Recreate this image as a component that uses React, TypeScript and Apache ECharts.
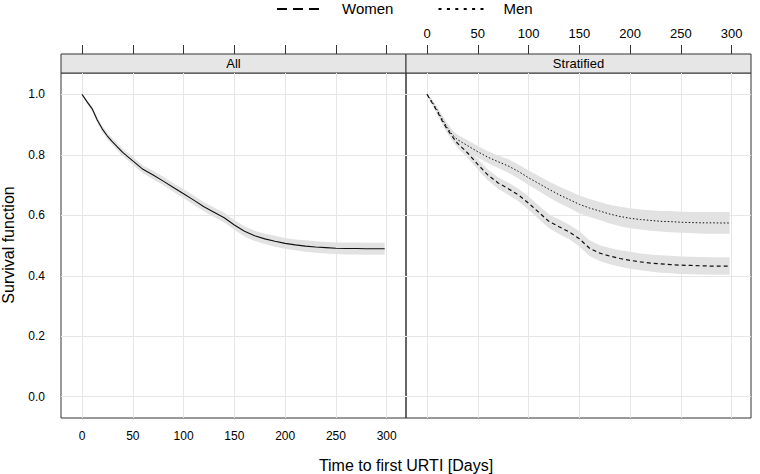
import React, { useEffect, useRef } from "react";
import * as echarts from "echarts";

const FONT = "'Liberation Sans', Arial, Helvetica, sans-serif";

const days = [0, 5, 10, 15, 20, 25, 30, 40, 50, 60, 70, 80, 90, 100, 110, 120, 130, 140, 150, 160, 170, 180, 190, 200, 210, 220, 230, 240, 250, 260, 270, 280, 290, 298];

const allSurv = [1.0, 0.975, 0.952, 0.915, 0.885, 0.862, 0.843, 0.808, 0.78, 0.752, 0.733, 0.713, 0.692, 0.671, 0.65, 0.628, 0.61, 0.592, 0.568, 0.547, 0.532, 0.522, 0.514, 0.507, 0.502, 0.498, 0.495, 0.493, 0.491, 0.49, 0.49, 0.4895, 0.4895, 0.4895];
const allHalfCI = [0, 0.006, 0.008, 0.009, 0.01, 0.011, 0.011, 0.012, 0.013, 0.013, 0.014, 0.014, 0.014, 0.015, 0.015, 0.015, 0.016, 0.016, 0.016, 0.017, 0.017, 0.017, 0.018, 0.018, 0.018, 0.019, 0.019, 0.019, 0.019, 0.02, 0.02, 0.02, 0.02, 0.02];

const menSurv = [1.0, 0.975, 0.948, 0.918, 0.89, 0.866, 0.85, 0.83, 0.81, 0.792, 0.777, 0.763, 0.745, 0.724, 0.705, 0.686, 0.668, 0.652, 0.636, 0.624, 0.614, 0.604, 0.596, 0.59, 0.586, 0.583, 0.58, 0.579, 0.577, 0.576, 0.575, 0.575, 0.5745, 0.5745];
const menHalfCI = [0, 0.008, 0.011, 0.013, 0.014, 0.015, 0.016, 0.018, 0.019, 0.02, 0.021, 0.022, 0.023, 0.024, 0.025, 0.026, 0.027, 0.028, 0.029, 0.03, 0.03, 0.031, 0.032, 0.033, 0.033, 0.034, 0.034, 0.035, 0.035, 0.035, 0.036, 0.036, 0.036, 0.036];

const womenSurv = [1.0, 0.972, 0.944, 0.912, 0.884, 0.86, 0.838, 0.806, 0.768, 0.733, 0.707, 0.688, 0.667, 0.64, 0.61, 0.58, 0.562, 0.545, 0.522, 0.491, 0.475, 0.465, 0.457, 0.451, 0.446, 0.442, 0.439, 0.437, 0.435, 0.434, 0.433, 0.432, 0.432, 0.432];
const womenHalfCI = [0, 0.008, 0.01, 0.012, 0.013, 0.014, 0.015, 0.016, 0.017, 0.018, 0.019, 0.02, 0.021, 0.022, 0.022, 0.023, 0.024, 0.024, 0.025, 0.026, 0.026, 0.027, 0.027, 0.028, 0.028, 0.028, 0.029, 0.029, 0.029, 0.029, 0.029, 0.029, 0.029, 0.029];

const xTicks = [0, 50, 100, 150, 200, 250, 300];
const yTicks = [0, 0.2, 0.4, 0.6, 0.8, 1.0];
const panelTitles = ["All", "Stratified"];
const legendNames = ["Women", "Men"];

const X_MIN = -20.7;
const X_MAX = 319;
const Y_MIN = -0.0704;
const Y_MAX = 1.0705;

const INK = "#000";
const FRAME = "#333";
const GRIDC = "#e6e6e6";
const BAND = "#e2e2e2";
const WOMEN_DASH = [4, 3];
const MEN_DASH = [1.5, 2];

function pairs(ys: number[]) {
  return days.map((d, i) => [d, ys[i]]);
}

function bandSeries(surv: number[], half: number[], gi: number, xi: number, key: string) {
  const lower = surv.map((v, i) => v - half[i]);
  const upper = surv.map((v, i) => v + half[i]);
  return {
    type: "custom",
    name: key + "-ci",
    xAxisIndex: xi,
    yAxisIndex: gi,
    silent: true,
    z: 3,
    encode: { x: 0, y: [1, 2] },
    data: days.map((d, i) => [d, lower[i], upper[i]]),
    renderItem: (params: any, api: any) => {
      if (params.dataIndex !== 0) return null;
      const pts: number[][] = [];
      for (let j = 0; j < days.length; j++) pts.push(api.coord([days[j], upper[j]]));
      for (let j = days.length - 1; j >= 0; j--) pts.push(api.coord([days[j], lower[j]]));
      return {
        type: "polygon",
        shape: { points: pts },
        style: { fill: BAND, stroke: "none" },
      };
    },
  };
}

function gridSeries(gi: number, xi: number) {
  return {
    type: "line",
    name: "grid" + gi,
    xAxisIndex: xi,
    yAxisIndex: gi,
    data: [],
    silent: true,
    z: 1,
    markLine: {
      silent: true,
      z: 1,
      symbol: ["none", "none"],
      label: { show: false },
      lineStyle: { color: GRIDC, type: "solid", width: 1 },
      emphasis: { disabled: true },
      data: [
        ...xTicks.map((t) => ({ xAxis: t })),
        ...yTicks.map((t) => ({ yAxis: t })),
      ],
    },
  };
}

function xAxisDef(gi: number, pos: "top" | "bottom", labels: boolean, offset: number) {
  return {
    type: "value",
    gridIndex: gi,
    position: pos,
    offset,
    min: X_MIN,
    max: X_MAX,
    axisLine: { show: false },
    splitLine: { show: false },
    axisTick: {
      show: true,
      inside: false,
      length: pos === "top" ? 9 : 7,
      customValues: xTicks,
      lineStyle: { color: FRAME, width: 1 },
    },
    axisLabel: {
      show: labels,
      customValues: xTicks,
      margin: pos === "bottom" ? 12 : 14,
      fontSize: pos === "bottom" ? 12 : 13,
      color: INK,
      fontFamily: FONT,
    },
  };
}

function yAxisDef(gi: number, pos: "left" | "right", labels: boolean) {
  return {
    type: "value",
    gridIndex: gi,
    position: pos,
    min: Y_MIN,
    max: Y_MAX,
    axisLine: { show: false },
    splitLine: { show: false },
    axisTick: {
      show: true,
      inside: false,
      length: 8,
      customValues: yTicks,
      lineStyle: { color: FRAME, width: 1 },
    },
    axisLabel: {
      show: labels,
      customValues: yTicks,
      margin: 16,
      fontSize: 12,
      color: INK,
      fontFamily: FONT,
      formatter: (v: number) => v.toFixed(1),
    },
  };
}

export default function App() {
  const ref = useRef<HTMLDivElement>(null);

  useEffect(() => {
    if (!ref.current) return;
    const chart = echarts.init(ref.current, null, { renderer: "svg" });

    const panelLeft = [61, 406];
    const panelTop = 73;
    const panelW = 345;
    const panelH = 345;
    const stripH = 19;

    const legendText = (x: number, t: string) => ({
      type: "text",
      x,
      y: 8.5,
      style: {
        text: t,
        fontSize: 15,
        fontFamily: FONT,
        fill: INK,
        align: "left",
        verticalAlign: "middle",
      },
    });

    const option: any = {
      animation: false,
      textStyle: { fontFamily: FONT },
      grid: panelLeft.map((l) => ({
        left: l,
        top: panelTop,
        width: panelW,
        height: panelH,
        show: true,
        borderColor: FRAME,
        borderWidth: 1,
        backgroundColor: "transparent",
        containLabel: false,
      })),
      xAxis: [
        xAxisDef(0, "bottom", true, 0),
        xAxisDef(0, "top", false, stripH),
        xAxisDef(1, "bottom", false, 0),
        xAxisDef(1, "top", true, stripH),
      ],
      yAxis: [yAxisDef(0, "left", true), yAxisDef(1, "right", false)],
      series: [
        gridSeries(0, 0),
        gridSeries(1, 2),
        bandSeries(allSurv, allHalfCI, 0, 0, "all"),
        bandSeries(menSurv, menHalfCI, 1, 2, "men"),
        bandSeries(womenSurv, womenHalfCI, 1, 2, "women"),
        {
          type: "line",
          name: "All",
          xAxisIndex: 0,
          yAxisIndex: 0,
          data: pairs(allSurv),
          symbol: "none",
          lineStyle: { color: "#111", width: 1.1, type: "solid" },
          z: 5,
        },
        {
          type: "line",
          name: legendNames[1],
          xAxisIndex: 2,
          yAxisIndex: 1,
          data: pairs(menSurv),
          symbol: "none",
          lineStyle: { color: "#111", width: 1, type: MEN_DASH },
          z: 5,
        },
        {
          type: "line",
          name: legendNames[0],
          xAxisIndex: 2,
          yAxisIndex: 1,
          data: pairs(womenSurv),
          symbol: "none",
          lineStyle: { color: "#111", width: 1.2, type: WOMEN_DASH },
          z: 5,
        },
      ],
      graphic: [
        ...panelLeft.map((l, i) => ({
          type: "group",
          children: [
            {
              type: "rect",
              shape: { x: l, y: panelTop - stripH, width: panelW, height: stripH },
              style: { fill: "#e6e6e6", stroke: FRAME, lineWidth: 1 },
            },
            {
              type: "text",
              x: l + panelW / 2,
              y: panelTop - stripH / 2,
              style: {
                text: panelTitles[i],
                fontSize: 13,
                fontFamily: FONT,
                fill: INK,
                align: "center",
                verticalAlign: "middle",
              },
            },
          ],
        })),
        {
          type: "line",
          shape: { x1: 277, y1: 9, x2: 319, y2: 9 },
          style: { stroke: INK, lineWidth: 2, lineDash: [10, 6] },
        },
        legendText(342, legendNames[0]),
        {
          type: "line",
          shape: { x1: 438.5, y1: 9, x2: 483.5, y2: 9 },
          style: { stroke: INK, lineWidth: 2, lineDash: [3, 5.4] },
        },
        legendText(503.5, legendNames[1]),
        {
          type: "text",
          x: 406,
          y: 465,
          style: {
            text: "Time to first URTI [Days]",
            fontSize: 16,
            fontFamily: FONT,
            fill: INK,
            align: "center",
            verticalAlign: "middle",
          },
        },
        {
          type: "text",
          x: 8,
          y: 245,
          rotation: Math.PI / 2,
          style: {
            text: "Survival function",
            fontSize: 16,
            fontFamily: FONT,
            fill: INK,
            align: "center",
            verticalAlign: "middle",
          },
        },
      ],
    };

    chart.setOption(option);
    return () => chart.dispose();
  }, []);

  return (
    <div
      ref={ref}
      style={{ position: "fixed", left: 0, top: 0, width: 760, height: 474, background: "#fff" }}
    />
  );
}
